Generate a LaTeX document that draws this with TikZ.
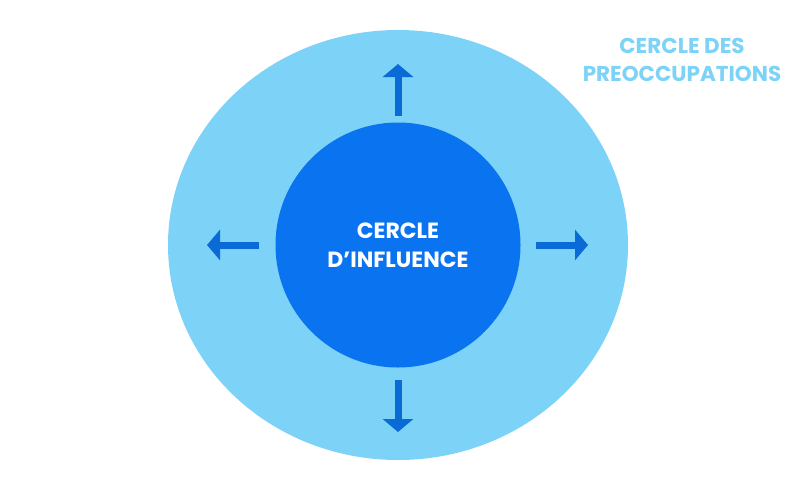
\documentclass[tikz,border=0pt]{standalone}
\usepackage{fontspec}
\setmainfont{Poppins}
\usepackage{tikz}
\usetikzlibrary{arrows.meta, positioning, shapes.geometric}
\definecolor{outerblue}{HTML}{7DD3F7}
\definecolor{innerblue}{HTML}{0A74F0}
\definecolor{arrowblue}{HTML}{0A6AD6}

\begin{document}
\begin{tikzpicture}[x=1pt, y=-1pt,
    outer/.style={ellipse, fill=outerblue, minimum width=460pt, minimum height=430pt, inner sep=0pt},
    inner/.style={circle, fill=innerblue, minimum size=245pt, inner sep=0pt,
                  text=white, font=\bfseries\fontsize{22}{29}\selectfont, align=center},
    label/.style={text=outerblue, font=\bfseries\fontsize{21.5}{28}\selectfont, align=center},
    push/.style={arrowblue, line width=7pt, -{Triangle[width=30pt, length=13pt]}}
]
\useasboundingbox (0,0) rectangle (800,480);
\fill[white] (0,0) rectangle (800,480);

\node[outer] at (398,245) (concern) {};
\node[inner] at (398,245) (influence) {CERCLE\\D’INFLUENCE};

\node[label] at (682,60) (title) {CERCLE DES\\PREOCCUPATIONS};

% arrows pointing outward
\coordinate (upA) at (398,116);   \coordinate (upB) at (398,64);
\coordinate (dnA) at (398,380);   \coordinate (dnB) at (398,432);
\coordinate (ltA) at (259,245);   \coordinate (ltB) at (207,245);
\coordinate (rtA) at (536,245);   \coordinate (rtB) at (588,245);

\draw[push] (upA) -- (upB);
\draw[push] (dnA) -- (dnB);
\draw[push] (ltA) -- (ltB);
\draw[push] (rtA) -- (rtB);
\end{tikzpicture}
\end{document}
